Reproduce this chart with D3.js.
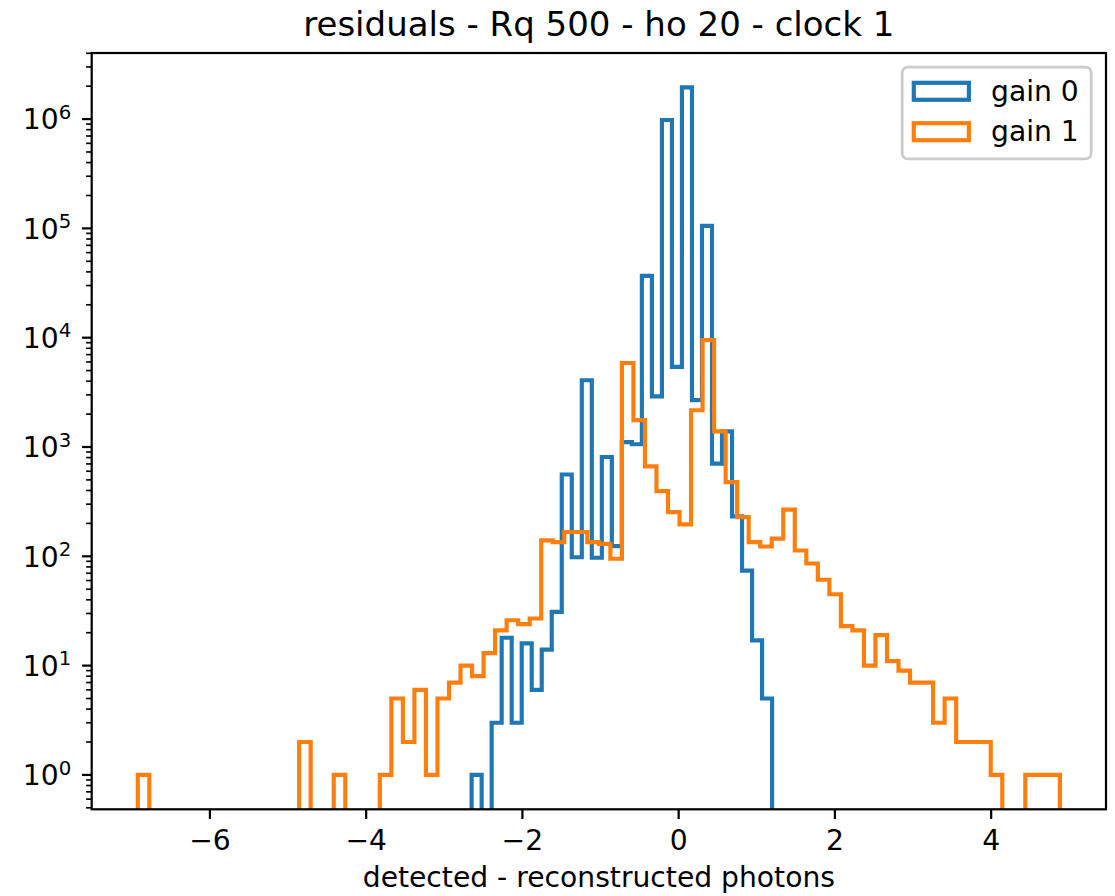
<!DOCTYPE html>
<html>
<head>
<meta charset="utf-8">
<script src="https://cdn.jsdelivr.net/npm/d3@7"></script>
<style>
  html, body { margin: 0; padding: 0; background: #ffffff; }
  svg { display: block; }
  text { font-family: "DejaVu Sans", sans-serif; fill: #000; }
</style>
</head>
<body>
<svg id="chart" width="1115" height="896"></svg>
<script>
// ---------------- data ----------------
const titleText = "residuals - Rq 500 - ho 20 - clock 1";
const xLabelText = "detected - reconstructed photons";
const seriesNames = ["gain 0", "gain 1"];
const seriesColors = ["#1f77b4", "#ff7f0e"];

// histogram bin ranges (uniform bins)
const gain0Range = [-2.650, 1.196];
const gain0BinCount = 30;
const gain1Range = [-6.923, 4.880];
const gain1BinCount = 80;

// counts per bin
const gain0Counts = [1, 0, 3, 18, 3, 16, 6, 14, 31, 560,
                     98, 4080, 97, 810, 124, 1110, 1060, 36800, 2910, 980000,
                     5400, 1950000, 2680, 105600, 705, 1390, 232, 74, 17, 5];
const gain1Counts = [1, 0, 0, 0, 0, 0, 0, 0, 0, 0,
                     0, 0, 0, 0, 2, 0, 0, 1, 0, 0,
                     0, 1, 5, 2, 6, 1, 5, 7, 10, 8,
                     13, 21, 26, 24, 27, 140, 135, 167, 167, 135,
                     130, 95, 5870, 1760, 665, 395, 254, 196, 2170, 9490,
                     1390, 478, 228, 135, 123, 145, 267, 113, 86, 61,
                     45, 23, 21, 10, 19, 11, 9, 7, 7, 3,
                     5, 2, 2, 2, 1, 0, 0, 1, 1, 1];

const xTicks = [-6, -4, -2, 0, 2, 4];
const yTickExps = [0, 1, 2, 3, 4, 5, 6];

// ---------------- layout ----------------
const S = 2.78; // px per pt
const L = 91.7, R = 1106, T = 53, B = 809.3;
const fs = 28.2;
const titleFs = 34;

const svg = d3.select("#chart");

function edges(range, n) {
  const w = (range[1] - range[0]) / n;
  return d3.range(n + 1).map(i => range[0] + i * w);
}
const e0 = edges(gain0Range, gain0BinCount);
const e1 = edges(gain1Range, gain1BinCount);

// x domain with 5% margins like matplotlib
const xMin = Math.min(gain0Range[0], gain1Range[0]);
const xMax = Math.max(gain0Range[1], gain1Range[1]);
const xm = (xMax - xMin) * 0.05;
const x = d3.scaleLinear().domain([xMin - xm, xMax + xm]).range([L, R]);

// log y domain with 5% margins in log space
const allPos = gain0Counts.concat(gain1Counts).filter(v => v > 0);
const lmin = Math.log10(d3.min(allPos)), lmax = Math.log10(d3.max(allPos));
const lm = (lmax - lmin) * 0.05;
const y = d3.scaleLog().domain([Math.pow(10, lmin - lm), Math.pow(10, lmax + lm)]).range([B, T]);

const clipId = "plotclip";
svg.append("defs").append("clipPath").attr("id", clipId)
  .append("rect").attr("x", L).attr("y", T).attr("width", R - L).attr("height", B - T);

function yv(c) { return c > 0 ? y(c) : B + 200; }

function stepPoints(ed, counts) {
  const pts = [[x(ed[0]), yv(0)]];
  counts.forEach((c, i) => {
    pts.push([x(ed[i]), yv(c)]);
    pts.push([x(ed[i + 1]), yv(c)]);
  });
  pts.push([x(ed[ed.length - 1]), yv(0)]);
  return pts;
}

const line = d3.line();
const g = svg.append("g").attr("clip-path", `url(#${clipId})`);
[[e0, gain0Counts], [e1, gain1Counts]].forEach(([ed, counts], i) => {
  g.append("path")
    .attr("d", line(stepPoints(ed, counts)))
    .attr("fill", "none")
    .attr("stroke", seriesColors[i])
    .attr("stroke-width", 1.5 * S)
    .attr("stroke-linejoin", "miter")
    .attr("stroke-linecap", "butt");
});

// ---------------- axes ----------------
const majLen = 3.5 * S, minLen = 2 * S, pad = 3.5 * S;
const spineW = 0.8 * S;

// x ticks
const xa = svg.append("g");
xTicks.forEach(t => {
  const px = x(t);
  xa.append("line").attr("x1", px).attr("x2", px).attr("y1", B).attr("y2", B + majLen)
    .attr("stroke", "#000").attr("stroke-width", spineW);
  xa.append("text").attr("x", px).attr("y", B + majLen + pad + 0.76 * fs)
    .attr("text-anchor", "middle").attr("font-size", fs)
    .text(t < 0 ? "\u2212" + Math.abs(t) : String(t));
});

// y ticks (major)
const ya = svg.append("g");
yTickExps.forEach(k => {
  const py = y(Math.pow(10, k));
  ya.append("line").attr("x1", L - majLen).attr("x2", L).attr("y1", py).attr("y2", py)
    .attr("stroke", "#000").attr("stroke-width", spineW);
  const tx = ya.append("text").attr("x", L - majLen - pad - 1).attr("y", py + 10.2)
    .attr("text-anchor", "end").attr("font-size", fs);
  tx.append("tspan").text("10");
  tx.append("tspan").attr("dy", -10.5).attr("font-size", fs * 0.7).text(String(k));
});
// y minor ticks
const [d0, d1] = y.domain();
for (let k = Math.floor(Math.log10(d0)); k <= Math.ceil(Math.log10(d1)); k++) {
  for (let m = 2; m <= 9; m++) {
    const v = m * Math.pow(10, k);
    if (v < d0 || v > d1) continue;
    const py = y(v);
    ya.append("line").attr("x1", L - minLen).attr("x2", L).attr("y1", py).attr("y2", py)
      .attr("stroke", "#000").attr("stroke-width", 0.6 * S);
  }
}

// spines
svg.append("rect").attr("x", L).attr("y", T).attr("width", R - L).attr("height", B - T)
  .attr("fill", "none").attr("stroke", "#000").attr("stroke-width", spineW)
  .attr("stroke-linejoin", "miter");

// title and label
svg.append("text").attr("x", (L + R) / 2).attr("y", T - 6 * S)
  .attr("text-anchor", "middle").attr("font-size", titleFs).text(titleText);
svg.append("text").attr("x", (L + R) / 2).attr("y", 887)
  .attr("text-anchor", "middle").attr("font-size", fs).text(xLabelText);

// ---------------- legend ----------------
const lgX0 = 902.2, lgY0 = 67.2, lgW = 189, lgH = 91.6;
const lg = svg.append("g");
lg.append("rect").attr("x", lgX0).attr("y", lgY0).attr("width", lgW).attr("height", lgH)
  .attr("rx", 0.2 * fs).attr("ry", 0.2 * fs)
  .attr("fill", "rgba(255,255,255,0.8)").attr("stroke", "#cccccc").attr("stroke-width", 1 * S);
seriesNames.forEach((name, i) => {
  const ry = 82.8 + i * 40.4;
  lg.append("rect").attr("x", 913.8).attr("y", ry).attr("width", 55.1).attr("height", 17)
    .attr("fill", "none").attr("stroke", seriesColors[i]).attr("stroke-width", 1.5 * S)
    .attr("stroke-linejoin", "miter");
  lg.append("text").attr("x", 991).attr("y", ry + 8.5 + 9.5)
    .attr("font-size", fs).text(name);
});
</script>
</body>
</html>
